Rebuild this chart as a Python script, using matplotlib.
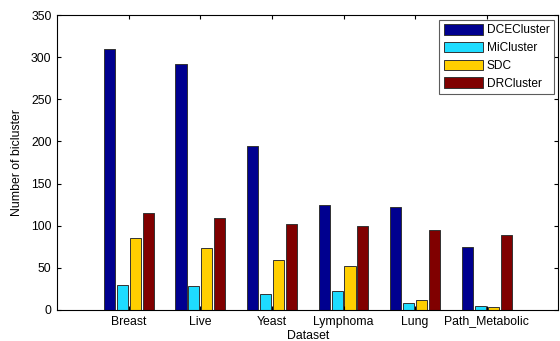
import matplotlib
matplotlib.use("Agg")
import matplotlib.pyplot as plt
import numpy as np

plt.rcParams['font.family'] = ['Liberation Sans', 'DejaVu Sans']

datasets = ["Breast", "Live", "Yeast", "Lymphoma", "Lung", "Path_Metabolic"]
methods = ["DCECluster", "MiCluster", "SDC", "DRCluster"]
dcecluster = [310, 292, 195, 125, 122, 75]
micluster = [30, 29, 19, 22, 8, 5]
sdc = [85, 73, 59, 52, 12, 3]
drcluster = [115, 109, 102, 100, 95, 89]
colors = ["#00008F", "#1EDCFF", "#FFCF00", "#800000"]

fig = plt.figure(figsize=(5.6, 3.41), dpi=100)
ax = fig.add_axes([0.102, 0.091, 0.895, 0.865])

x = np.arange(1, len(datasets) + 1)
w = 0.155
for i, (vals, name) in enumerate(zip([dcecluster, micluster, sdc, drcluster], methods)):
    ax.bar(x + (i - 1.5) * 0.18, vals, w, color=colors[i], edgecolor="#333333",
           linewidth=0.7, label=name)

ax.set_xlim(0, 7)
ax.set_ylim(0, 350)
ax.set_xticks(x)
ax.set_xticklabels(datasets)
ax.set_yticks(range(0, 351, 50))
ax.tick_params(direction="in", top=True, right=True, labelsize=8.8, length=3, pad=4)
ax.set_xlabel("Dataset", fontsize=8.8, labelpad=2)
ax.set_ylabel("Number of bicluster", fontsize=8.8, labelpad=6)
for s in ax.spines.values():
    s.set_linewidth(0.8)

leg = ax.legend(loc="upper right", fontsize=8.6, fancybox=False, edgecolor="#333333",
                borderaxespad=0.4, handlelength=3.3, handleheight=1.0,
                labelspacing=0.45, handletextpad=0.3, borderpad=0.35)
leg.get_frame().set_linewidth(0.8)

fig.savefig("out.png", dpi=100)
